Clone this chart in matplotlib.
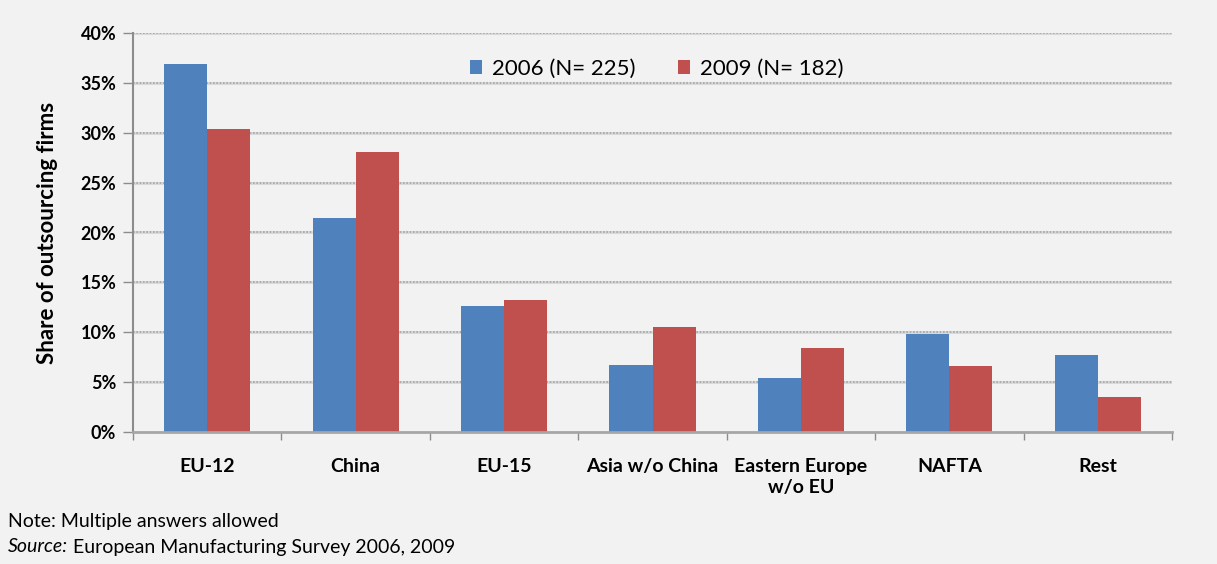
import matplotlib
matplotlib.use("Agg")
import matplotlib.pyplot as plt
import numpy as np

categories = ["EU-12", "China", "EU-15", "Asia w/o China", "Eastern Europe\nw/o EU", "NAFTA", "Rest"]
values_2006 = [36.9, 21.5, 12.6, 6.7, 5.4, 9.8, 7.7]
values_2009 = [30.4, 28.1, 13.2, 10.5, 8.4, 6.6, 3.5]
series_labels = ["2006 (N= 225)", "2009 (N= 182)"]
yticks = [0, 5, 10, 15, 20, 25, 30, 35, 40]
ytick_labels = [f"{t}%" for t in yticks]

plt.rcParams['font.family'] = ['Lato', 'DejaVu Sans']

bg = "#f2f2f2"
fig = plt.figure(figsize=(12.17, 5.64), dpi=100, facecolor=bg)
ax = fig.add_axes([133/1217, 1-432/564, (1172-133)/1217, (432-33)/564])
ax.set_facecolor(bg)

x = np.arange(len(categories))
w = 0.29
ax.bar(x - w/2, values_2006, w, color="#4f81bd", label=series_labels[0], zorder=3)
ax.bar(x + w/2, values_2009, w, color="#c0504d", label=series_labels[1], zorder=3)

ax.set_xlim(-0.5, len(categories) - 0.5)
ax.set_ylim(0, 40)
ax.set_yticks(yticks)
ax.set_yticklabels(ytick_labels, fontsize=13, fontweight="bold")
for t in yticks[1:]:
    ax.axhline(t, color="#d9d9d9", lw=2.2, zorder=1)
    ax.axhline(t, color="#a6a6a6", lw=1.2, linestyle=(0, (1, 1)), zorder=2)

ax.set_xticks(x)
ax.set_xticklabels(categories, fontsize=14, fontweight="bold", linespacing=1.25)
ax.tick_params(axis="x", length=0, pad=19)
ax.set_xticks(np.arange(len(categories) + 1) - 0.5, minor=True)
ax.tick_params(axis="x", which="minor", length=6, color="#8c8c8c", width=1)
ax.tick_params(axis="y", length=7, color="#8c8c8c", width=1, pad=5)

for s in ["top", "right"]:
    ax.spines[s].set_visible(False)
ax.spines["left"].set_color("#8c8c8c")
ax.spines["bottom"].set_color("#a6a6a6")
ax.spines["left"].set_linewidth(1.5)
ax.spines["bottom"].set_linewidth(2)
ax.spines["left"].set_zorder(4)
ax.spines["bottom"].set_zorder(4)

ax.set_ylabel("Share of outsourcing firms", fontsize=16, fontweight="bold", labelpad=16)

ax.legend(loc="upper left", bbox_to_anchor=(317/1039, 0.985), ncol=2, frameon=False,
          fontsize=16, handlelength=0.55, handleheight=0.55, columnspacing=1.9,
          handletextpad=0.45)

fig.text(8/1217, 1-522/564, "Note: Multiple answers allowed", fontsize=14, va="center", ha="left")
fig.text(8/1217, 1-547/564, "Source:", fontsize=14, va="center", ha="left", style="italic")
fig.text(73/1217, 1-547/564, "European Manufacturing Survey 2006, 2009", fontsize=14, va="center", ha="left")

fig.savefig("out.png", dpi=100, facecolor=bg)
